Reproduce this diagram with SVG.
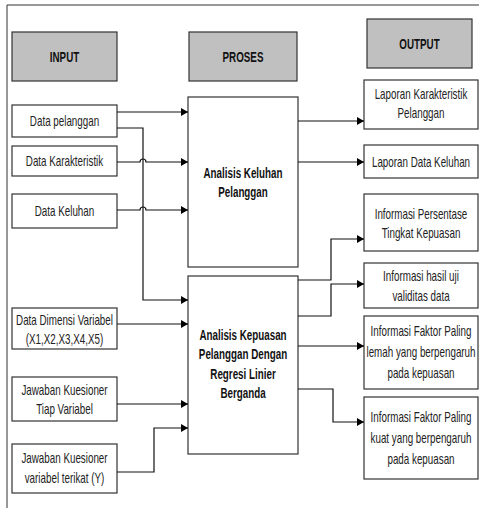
<svg xmlns="http://www.w3.org/2000/svg" width="479" height="508" viewBox="0 0 479 508">
<style>
.hdr{fill:#c0c0c0;stroke:#333;stroke-width:1.2}
.box{fill:#fff;stroke:#333;stroke-width:1.2}
.t{font-family:"Liberation Sans",Arial,sans-serif;font-size:15px;fill:#222;text-anchor:middle}
.b{font-weight:bold;fill:#111}
.ln{fill:none;stroke:#111;stroke-width:1.2}
.frame{fill:none;stroke:#333;stroke-width:1}
</style>
<defs>
<marker id="ah" markerWidth="7" markerHeight="8" refX="7" refY="4" orient="auto" markerUnits="userSpaceOnUse">
<path d="M0,0 L7,4 L0,8 Z" fill="#000"/>
</marker>
</defs>
<rect width="479" height="508" fill="#fff"/>
<path class="frame" d="M7,508 V5 H479"/>

<g id="input-header"><rect class="hdr" x="12" y="32" width="105" height="49"/><g transform="translate(64.5,0) scale(0.655,1)"><text class="t b" x="0" y="62">INPUT</text></g></g>
<g id="proses-header"><rect class="hdr" x="189" y="32" width="108" height="49"/><g transform="translate(243,0) scale(0.655,1)"><text class="t b" x="0" y="62">PROSES</text></g></g>
<g id="output-header"><rect class="hdr" x="367" y="19" width="105" height="49"/><g transform="translate(419.5,0) scale(0.655,1)"><text class="t b" x="0" y="49">OUTPUT</text></g></g>

<g id="data-pelanggan"><rect class="box" x="12" y="105" width="105" height="32"/><g transform="translate(64.5,0) scale(0.655,1)"><text class="t" x="0" y="126">Data pelanggan</text></g></g>
<g id="data-karakteristik"><rect class="box" x="12" y="146" width="105" height="30"/><g transform="translate(64.5,0) scale(0.655,1)"><text class="t" x="0" y="166">Data Karakteristik</text></g></g>
<g id="data-keluhan"><rect class="box" x="12" y="194" width="105" height="34"/><g transform="translate(64.5,0) scale(0.655,1)"><text class="t" x="0" y="216">Data Keluhan</text></g></g>
<g id="data-dimensi"><rect class="box" x="12" y="308" width="105" height="41"/><g transform="translate(64.5,0) scale(0.655,1)"><text class="t" x="0" y="325">Data Dimensi Variabel</text><text class="t" x="0" y="344">(X1,X2,X3,X4,X5)</text></g></g>
<g id="jawaban-tiap"><rect class="box" x="12" y="377" width="105" height="44"/><g transform="translate(64.5,0) scale(0.655,1)"><text class="t" x="0" y="395">Jawaban Kuesioner</text><text class="t" x="0" y="414">Tiap Variabel</text></g></g>
<g id="jawaban-terikat"><rect class="box" x="12" y="444" width="105" height="49"/><g transform="translate(64.5,0) scale(0.655,1)"><text class="t" x="0" y="463">Jawaban Kuesioner</text><text class="t" x="0" y="483">variabel terikat (Y)</text></g></g>

<g id="analisis-keluhan"><rect class="box" x="188" y="97" width="110" height="170"/><g transform="translate(243,0) scale(0.655,1)"><text class="t b" x="0" y="178">Analisis Keluhan</text><text class="t b" x="0" y="197">Pelanggan</text></g></g>
<g id="analisis-kepuasan"><rect class="box" x="188" y="276" width="110" height="178"/><g transform="translate(243,0) scale(0.655,1)"><text class="t b" x="0" y="340">Analisis Kepuasan</text><text class="t b" x="0" y="359.5">Pelanggan Dengan</text><text class="t b" x="0" y="379">Regresi Linier</text><text class="t b" x="0" y="398">Berganda</text></g></g>

<g id="laporan-karakteristik"><rect class="box" x="364" y="80" width="114" height="49"/><g transform="translate(421,0) scale(0.655,1)"><text class="t" x="0" y="99">Laporan Karakteristik</text><text class="t" x="0" y="118">Pelanggan</text></g></g>
<g id="laporan-keluhan"><rect class="box" x="364" y="145" width="114" height="33"/><g transform="translate(421,0) scale(0.655,1)"><text class="t" x="0" y="167">Laporan Data Keluhan</text></g></g>
<g id="info-persentase"><rect class="box" x="364" y="194" width="114" height="57"/><g transform="translate(421,0) scale(0.655,1)"><text class="t" x="0" y="219">Informasi Persentase</text><text class="t" x="0" y="238">Tingkat Kepuasan</text></g></g>
<g id="info-validitas"><rect class="box" x="364" y="263" width="114" height="45"/><g transform="translate(421,0) scale(0.655,1)"><text class="t" x="0" y="281">Informasi hasil uji</text><text class="t" x="0" y="301">validitas data</text></g></g>
<g id="info-lemah"><rect class="box" x="364" y="316" width="114" height="73"/><g transform="translate(421,0) scale(0.655,1)"><text class="t" x="0" y="336">Informasi Faktor Paling</text><text class="t" x="0" y="357">lemah yang berpengaruh</text><text class="t" x="0" y="378">pada kepuasan</text></g></g>
<g id="info-kuat"><rect class="box" x="364" y="397" width="114" height="82"/><g transform="translate(421,0) scale(0.655,1)"><text class="t" x="0" y="422">Informasi Faktor Paling</text><text class="t" x="0" y="443">kuat yang berpengaruh</text><text class="t" x="0" y="464">pada kepuasan</text></g></g>

<g id="connectors">
<path class="ln" d="M117,112 H188" marker-end="url(#ah)"/>
<path class="ln" d="M117,128 H143 V300 H188" marker-end="url(#ah)"/>
<path class="ln" d="M117,162 H140 A3,3 0 0 1 146,162 H188" marker-end="url(#ah)"/>
<path class="ln" d="M117,210 H140 A3,3 0 0 1 146,210 H188" marker-end="url(#ah)"/>
<path class="ln" d="M117,324 H188" marker-end="url(#ah)"/>
<path class="ln" d="M117,404 H188" marker-end="url(#ah)"/>
<path class="ln" d="M117,472 H154 V428 H188" marker-end="url(#ah)"/>
<path class="ln" d="M298,121 H364" marker-end="url(#ah)"/>
<path class="ln" d="M298,162 H364" marker-end="url(#ah)"/>
<path class="ln" d="M298,280 H331 V239 H364" marker-end="url(#ah)"/>
<path class="ln" d="M298,316 H331 V284 H364" marker-end="url(#ah)"/>
<path class="ln" d="M298,346 H364" marker-end="url(#ah)"/>
<path class="ln" d="M298,389 H333 V422 H364" marker-end="url(#ah)"/>
</g>
</svg>
